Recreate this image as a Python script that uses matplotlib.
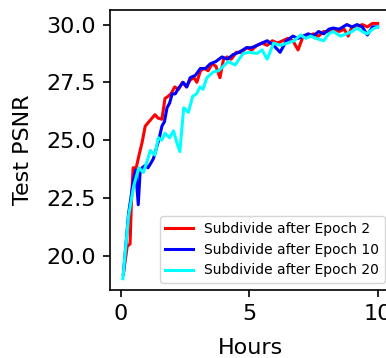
import matplotlib
matplotlib.use("Agg")
import matplotlib.pyplot as plt

# Subdivide after epoch 2
hours_e2 = [0.1, 0.25, 0.36, 0.42, 0.48, 0.6, 0.7, 0.83, 0.95, 1.1, 1.33, 1.45, 1.6, 1.72, 1.85,
            1.95, 2.1, 2.25, 2.4, 2.55, 2.7, 2.85, 2.96, 3.1, 3.25, 3.4, 3.55, 3.7, 3.86, 4.0,
            4.15, 4.3, 4.5, 4.7, 4.9, 5.1, 5.3, 5.5, 5.7, 5.9, 6.1, 6.3, 6.5, 6.7, 6.9, 7.1,
            7.3, 7.5, 7.7, 7.9, 8.1, 8.3, 8.5, 8.7, 8.85, 9.0, 9.2, 9.4, 9.6, 9.8, 10.0]
psnr_e2 = [19.2, 20.4, 20.5, 22.5, 23.8, 23.8, 24.3, 24.9, 25.6, 25.8, 26.1, 25.95, 25.9, 26.8, 26.9,
           27.0, 27.3, 27.2, 27.5, 27.3, 27.6, 27.7, 27.5, 28.0, 28.1, 28.0, 28.3, 28.2, 27.7, 28.5,
           28.6, 28.5, 28.8, 28.8, 29.0, 28.9, 29.1, 29.2, 29.1, 29.3, 29.2, 29.3, 29.4, 29.3, 28.9, 29.5,
           29.5, 29.6, 29.5, 29.7, 29.7, 29.8, 29.7, 29.8, 29.5, 29.9, 29.9, 30.0, 29.9, 30.05, 30.05]

# Subdivide after epoch 10
hours_e10 = [0.1, 0.3, 0.5, 0.58, 0.68, 0.75, 0.83, 0.95, 1.06, 1.17, 1.27, 1.4, 1.5, 1.6, 1.7,
             1.8, 1.9, 2.0, 2.12, 2.25, 2.43, 2.57, 2.7, 2.9, 3.1, 3.3, 3.48, 3.7, 3.94, 4.15,
             4.37, 4.6, 4.9, 5.1, 5.3, 5.5, 5.7, 5.95, 6.2, 6.45, 6.7, 6.9, 7.1, 7.3, 7.5, 7.7,
             7.9, 8.1, 8.27, 8.5, 8.8, 9.0, 9.2, 9.4, 9.6, 9.8, 10.0]
psnr_e10 = [19.2, 21.8, 23.3, 23.7, 22.2, 23.6, 23.8, 23.9, 23.8, 24.0, 24.2, 24.7, 25.1, 25.6, 25.8,
            26.4, 26.6, 27.0, 27.0, 27.25, 27.5, 27.3, 27.7, 27.8, 28.1, 28.1, 28.3, 28.4, 28.6, 28.5,
            28.7, 28.8, 29.0, 29.0, 29.1, 29.2, 29.3, 29.1, 28.8, 29.3, 29.5, 29.4, 29.5, 29.6, 29.5, 29.7,
            29.6, 29.8, 29.85, 29.8, 30.0, 29.9, 30.0, 29.9, 29.55, 29.9, 29.9]

# Subdivide after epoch 20
hours_e20 = [0.08, 0.3, 0.5, 0.7, 0.88, 1.0, 1.15, 1.33, 1.46, 1.6, 1.72, 1.9, 2.05, 2.18, 2.3,
             2.45, 2.63, 2.8, 2.95, 3.08, 3.2, 3.35, 3.6, 3.8, 3.95, 4.18, 4.45, 4.6, 4.77, 5.0,
             5.3, 5.5, 5.7, 5.95, 6.2, 6.5, 6.75, 7.0, 7.2, 7.4, 7.6, 7.9, 8.1, 8.27, 8.55, 8.8,
             9.0, 9.2, 9.4, 9.6, 9.8, 10.0]
psnr_e20 = [19.0, 21.7, 23.0, 23.8, 23.6, 24.0, 24.55, 24.35, 25.1, 25.0, 25.3, 25.1, 25.4, 24.9, 24.5,
            26.4, 26.2, 26.9, 27.0, 27.3, 27.2, 27.7, 27.95, 28.0, 28.15, 28.4, 28.25, 28.5, 28.75, 28.8,
            28.75, 28.9, 28.5, 29.2, 29.1, 29.2, 29.3, 29.55, 29.4, 29.5, 29.4, 29.3, 29.6, 29.7, 29.5, 29.6,
            29.7, 29.85, 29.7, 29.6, 29.8, 29.9]

plt.rcParams['font.size'] = 16
plt.rcParams['xtick.major.size'] = 5
plt.rcParams['ytick.major.size'] = 5
plt.rcParams['xtick.major.pad'] = 5
plt.rcParams['ytick.major.pad'] = 5
plt.rcParams['xtick.major.width'] = 1.2
plt.rcParams['ytick.major.width'] = 1.2
plt.rcParams['axes.linewidth'] = 1.2

fig = plt.figure(figsize=(3.86, 3.58), dpi=100)
ax = fig.add_axes([0.285, 0.19, 0.730, 0.782])

ax.plot(hours_e2, psnr_e2, color='red', lw=2.2, label='Subdivide after Epoch 2')
ax.plot(hours_e10, psnr_e10, color='blue', lw=2.2, label='Subdivide after Epoch 10')
ax.plot(hours_e20, psnr_e20, color='cyan', lw=2.2, label='Subdivide after Epoch 20')

ax.set_xlim(-0.42, 10.55)
ax.set_ylim(18.51, 30.63)
ax.set_xticks([0, 5, 10])
ax.set_yticks([20.0, 22.5, 25.0, 27.5, 30.0])
ax.set_xlabel('Hours', labelpad=10)
ax.set_ylabel('Test PSNR', labelpad=10)
ax.legend(loc='lower right', fontsize=10)

fig.savefig('out.png', dpi=100)
